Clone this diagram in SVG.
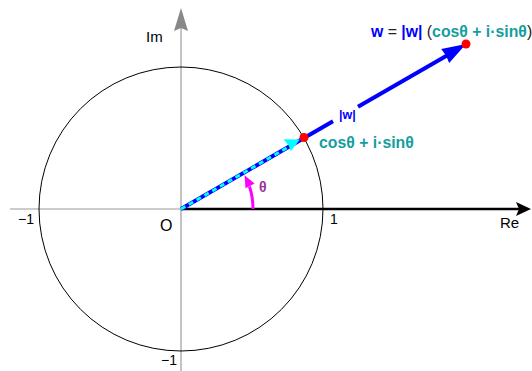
<svg xmlns="http://www.w3.org/2000/svg" width="532" height="371" viewBox="0 0 532 371">
<style>
text{font-family:"Liberation Sans",Arial,sans-serif}
.lbl{font-size:14px;fill:#000}
.b{font-weight:bold}
.blue{fill:#0000ff}
.teal{fill:#149e9e}
.dark{fill:#222}
</style>
<rect width="532" height="371" fill="#fff"/>
<g id="axes">
<line x1="10" y1="209" x2="181" y2="209" stroke="#999" stroke-width="1"/>
<line x1="181" y1="28" x2="181" y2="371" stroke="#888" stroke-width="1"/>
<polygon points="181,8 188,31 181,28 174,31" fill="#888"/>
<line x1="181" y1="209" x2="520" y2="209" stroke="#000" stroke-width="2.5"/>
<polygon points="531,209 516,216 519,209 516,202" fill="#000"/>
</g>
<g id="circle"><circle cx="181" cy="209" r="142" fill="none" stroke="#000" stroke-width="1"/></g>
<g id="connectors">
<line x1="181" y1="209" x2="333" y2="121.3" stroke="#0000ff" stroke-width="4"/>
<line x1="358" y1="106.8" x2="447" y2="55.4" stroke="#0000ff" stroke-width="4"/>
<polygon points="466,44 449.2,62.9 446,55.5 441.2,49.1" fill="#0000ff"/>
<line x1="181" y1="209" x2="289" y2="146.6" stroke="#00ffff" stroke-width="2.8" stroke-dasharray="5,4"/>
<polygon points="300,139.5 290.6,151.2 289,146 283.6,139.2" fill="#00ffff"/>
<path d="M253,209 A72,72 0 0 0 249.5,186.5" fill="none" stroke="#ff00ff" stroke-width="3"/>
<polygon points="244.6,175.2 254.5,183.6 250,186 245.5,188.2" fill="#ff00ff"/>
</g>
<g id="unit-point"><circle cx="304" cy="137.5" r="4.5" fill="#ff0000"/></g>
<g id="w-point"><circle cx="466" cy="44" r="4.5" fill="#ff0000"/></g>
<g id="labels">
<text class="lbl" x="146" y="42" style="font-size:15px">Im</text>
<text class="lbl" x="500" y="228" style="font-size:15px">Re</text>
<text x="160" y="231" style="font-size:16px">O</text>
<text class="lbl" x="18" y="224">−1</text>
<text class="lbl" x="330" y="224">1</text>
<text class="lbl" x="161" y="365">−1</text>
<text class="b" x="259" y="192" style="font-size:14px;fill:#993399">θ</text>
<text class="b blue" x="339" y="119" style="font-size:12.5px">|w|</text>
<text class="b teal" x="319" y="148" style="font-size:15.8px">cosθ + i·sinθ</text>
<text x="371" y="37" style="font-size:15.8px"><tspan class="b blue">w</tspan><tspan class="dark"> = </tspan><tspan class="b blue">|w|</tspan><tspan class="dark"> (</tspan><tspan class="b teal">cosθ + i·sinθ</tspan><tspan class="dark">)</tspan></text>
</g>
</svg>
